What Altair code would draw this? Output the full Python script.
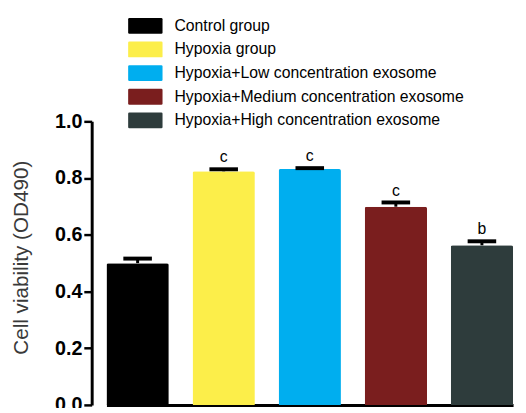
import altair as alt
import pandas as pd

groups = ["Control group", "Hypoxia group", "Hypoxia+Low concentration exosome",
          "Hypoxia+Medium concentration exosome", "Hypoxia+High concentration exosome"]
values = [0.500, 0.824, 0.832, 0.699, 0.563]
errors = [0.016, 0.007, 0.003, 0.015, 0.014]
letters = ["", "c", "c", "c", "b"]
colors = ["#000000", "#FCEE4A", "#00AEEF", "#7A1E1E", "#2E3C3C"]

df = pd.DataFrame({"group": groups, "value": values, "err": errors, "letter": letters})
df["top"] = df["value"] + df["err"]

swatch = ("M-1.8,-0.89 H1.8 Q1.94,-0.89 1.94,-0.75 V0.75 Q1.94,0.89 1.8,0.89 "
          "H-1.8 Q-1.94,0.89 -1.94,0.75 V-0.75 Q-1.94,-0.89 -1.8,-0.89 Z")

x = alt.X("group:N", sort=groups,
          scale=alt.Scale(range=[15, 428], paddingInner=0.276, paddingOuter=0),
          axis=alt.Axis(labels=False, ticks=False, title=None, domainWidth=3,
                        domainColor="#000000"))

y_axis = alt.Axis(values=[0, 0.2, 0.4, 0.6, 0.8, 1.0], format=".1f",
                  title="Cell viability (OD490)", titleFontSize=21,
                  titleFontWeight="normal", titleColor="#3a3a3a", titleFont="Liberation Sans",
                  titleAngle=-90, titleX=-71, titleY=138, titleBaseline="middle",
                  titleAlign="center",
                  labelFont="Liberation Sans", labelFontSize=20, labelFontWeight="bold",
                  labelColor="#000000", labelPadding=2,
                  tickSize=8, tickWidth=2.5, tickColor="#000000",
                  domainWidth=3, domainColor="#000000", grid=False)

bars = alt.Chart(df).mark_bar(cornerRadiusTopLeft=2, cornerRadiusTopRight=2).encode(
    x=x,
    y=alt.Y("value:Q", scale=alt.Scale(domain=[0, 1.0], nice=False), axis=y_axis),
    color=alt.Color("group:N", sort=groups,
                    scale=alt.Scale(domain=groups, range=colors),
                    legend=alt.Legend(orient="none", legendX=45.5, legendY=-106,
                                      title=None, symbolType=swatch, symbolSize=324,
                                      symbolStrokeWidth=0, symbolOpacity=1,
                                      labelFont="Liberation Sans", labelFontSize=16,
                                      labelColor="#000000", labelOffset=20.5,
                                      rowPadding=6, padding=0, labelLimit=400)),
)

stems = alt.Chart(df).mark_rule(color="#000000", strokeWidth=3, opacity=1).encode(
    x=alt.X("group:N", sort=groups),
    y="value:Q",
    y2="top:Q",
)

caps = alt.Chart(df).mark_tick(color="#000000", thickness=4, size=29, opacity=1).encode(
    x=alt.X("group:N", sort=groups),
    y="top:Q",
)

labels = alt.Chart(df).mark_text(font="Liberation Sans", fontSize=16, color="#000000",
                                 baseline="bottom", dy=-4).encode(
    x=alt.X("group:N", sort=groups),
    y="top:Q",
    text="letter:N",
)

chart = alt.layer(bars, stems, caps, labels).properties(
    width=433, height=288,
    padding={"left": 85, "top": 112, "right": 0, "bottom": 0},
    autosize=alt.AutoSizeParams(type="none"),
).configure_view(stroke=None)

chart.save("out.html", embed_options={"renderer": "svg", "actions": False})
